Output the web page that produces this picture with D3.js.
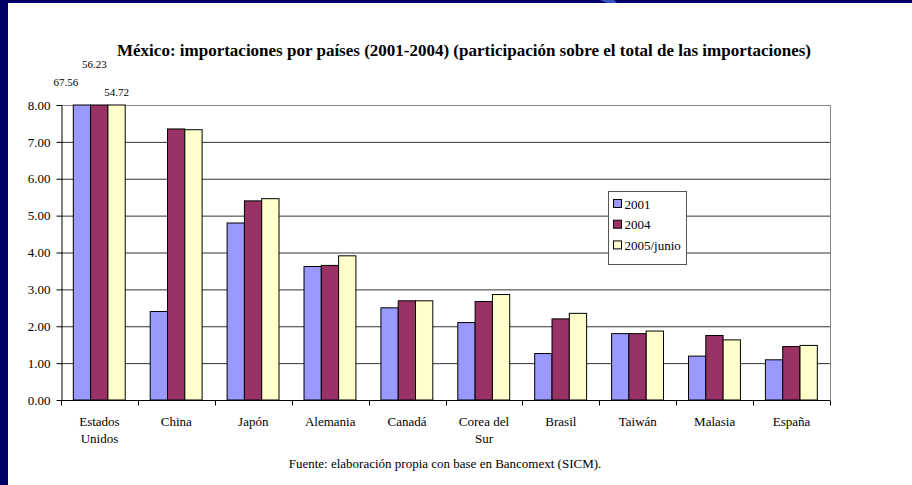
<!DOCTYPE html>
<html>
<head>
<meta charset="utf-8">
<script src="https://cdn.jsdelivr.net/npm/d3@7"></script>
<style>
  html, body { margin: 0; padding: 0; background: #fff; }
  svg { display: block; }
  svg text { font-family: "Liberation Serif", "Times New Roman", "DejaVu Serif", serif !important; fill: #000; }
</style>
</head>
<body>
<div id="chart"></div>
<script>
// Data
const categories = ["Estados Unidos", "China", "Japón", "Alemania", "Canadá",
  "Corea del Sur", "Brasil", "Taiwán", "Malasia", "España"];
const seriesNames = ["2001", "2004", "2005/junio"];
const v2001 = [67.56, 2.40, 4.80, 3.62, 2.50, 2.10, 1.26, 1.80, 1.19, 1.09];
const v2004 = [56.23, 7.35, 5.40, 3.65, 2.69, 2.67, 2.20, 1.80, 1.75, 1.45];
const v2005 = [54.72, 7.33, 5.46, 3.91, 2.69, 2.86, 2.35, 1.87, 1.63, 1.48];
const yTicks = [0, 1, 2, 3, 4, 5, 6, 7, 8];

const colors = ["#9999FF", "#993366", "#FFFFCC"];
const series = [v2001, v2004, v2005];
const serif = "'Liberation Serif', 'Times New Roman', serif";

const W = 912, H = 485;
const margin = { left: 61, right: 82, top: 105, bottom: 85 };

const svg = d3.select("#chart").append("svg")
  .attr("width", W).attr("height", H)
  .attr("font-family", serif);

// slide frame
svg.append("rect").attr("x", 0).attr("y", 0).attr("width", W).attr("height", 3).attr("fill", "#000066");
svg.append("rect").attr("x", 0).attr("y", 0).attr("width", 8).attr("height", H).attr("fill", "#000066");
svg.append("path").attr("d", "M600,0 L614,0 L617,3 L607,3 Z").attr("fill", "#3355bb");

const x0 = d3.scaleBand().domain(categories).range([margin.left, W - margin.right]);
const x1 = d3.scaleBand().domain(seriesNames)
  .range([x0.step() * 0.16, x0.step() * 0.835]);
const y = d3.scaleLinear().domain([0, 8]).range([H - margin.bottom, margin.top]).clamp(true);

// title
svg.append("text")
  .attr("x", 464).attr("y", 56)
  .attr("text-anchor", "middle")
  .attr("font-weight", "bold")
  .attr("font-size", "17px")
  .text("México: importaciones por países (2001-2004) (participación sobre el total de las importaciones)");

// gridlines
svg.append("g")
  .selectAll("line")
  .data(yTicks.filter(d => d > 0))
  .join("line")
  .attr("x1", margin.left).attr("x2", W - margin.right)
  .attr("y1", d => y(d) + 0.5).attr("y2", d => y(d) + 0.5)
  .attr("stroke", d => d === 8 ? "#888" : "#333")
  .attr("stroke-width", 1);

// right border of plot area
svg.append("line")
  .attr("x1", W - margin.right + 0.5).attr("x2", W - margin.right + 0.5)
  .attr("y1", y(8)).attr("y2", y(0))
  .attr("stroke", "#888");

// bars
const groups = svg.append("g")
  .selectAll("g")
  .data(categories)
  .join("g")
  .attr("transform", d => `translate(${x0(d)},0)`);

groups.selectAll("rect")
  .data((d, i) => series.map((s, k) => ({ key: seriesNames[k], value: s[i], k })))
  .join("rect")
  .attr("x", d => x1(d.key))
  .attr("width", x1.bandwidth())
  .attr("y", d => y(d.value))
  .attr("height", d => y(0) - y(d.value))
  .attr("fill", d => colors[d.k])
  .attr("stroke", "#000")
  .attr("stroke-width", 1);

// labels for the clipped bars (Estados Unidos)
const labelOffsets = [{ dx: -16, dy: -19 }, { dx: -5, dy: -37 }, { dx: 0, dy: -9 }];
series.forEach((s, k) => {
  if (s[0] > 8) {
    svg.append("text")
      .attr("x", x0(categories[0]) + x1(seriesNames[k]) + x1.bandwidth() / 2 + labelOffsets[k].dx)
      .attr("y", y(8) + labelOffsets[k].dy)
      .attr("text-anchor", "middle")
      .attr("font-size", "11px")
      .text(s[0].toFixed(2));
  }
});

// y axis
const yAxis = svg.append("g")
  .attr("transform", `translate(${margin.left + 0.5},0)`)
  .call(d3.axisLeft(y).tickValues(yTicks).tickFormat(d3.format(".2f")).tickSize(5).tickSizeOuter(0))
  .attr("font-family", serif);
yAxis.select(".domain").attr("stroke", "#000");
yAxis.selectAll(".tick line").attr("stroke", "#000");
yAxis.selectAll(".tick text")
  .attr("font-size", "13px")
  .attr("x", -11);

// x axis
const xAxis = svg.append("g")
  .attr("transform", `translate(0,${y(0) + 0.5})`);
xAxis.append("line")
  .attr("x1", margin.left).attr("x2", W - margin.right)
  .attr("stroke", "#000");
xAxis.selectAll("line.tk")
  .data(categories.concat(["end"]))
  .join("line")
  .attr("class", "tk")
  .attr("x1", (d, i) => Math.round(margin.left + i * x0.step()) + 0.5)
  .attr("x2", (d, i) => Math.round(margin.left + i * x0.step()) + 0.5)
  .attr("y1", 0).attr("y2", 5)
  .attr("stroke", "#000");

const catLabels = xAxis.selectAll("text")
  .data(categories)
  .join("text")
  .attr("text-anchor", "middle")
  .attr("font-size", "13px")
  .attr("transform", d => `translate(${x0(d) + x0.bandwidth() / 2},0)`);

function splitLabel(name) {
  if (name === "Estados Unidos") return ["Estados", "Unidos"];
  if (name === "Corea del Sur") return ["Corea del", "Sur"];
  return [name];
}
catLabels.selectAll("tspan")
  .data(d => splitLabel(d))
  .join("tspan")
  .attr("x", 0)
  .attr("y", (d, i) => 25 + i * 17.5)
  .text(d => d);

// legend
const legend = svg.append("g").attr("transform", "translate(608.5,191.5)");
legend.append("rect")
  .attr("width", 78).attr("height", 73)
  .attr("fill", "#fff").attr("stroke", "#555");
seriesNames.forEach((name, k) => {
  const row = legend.append("g").attr("transform", `translate(5,${12.5 + k * 20.7})`);
  row.append("rect")
    .attr("x", 0).attr("y", -4.5).attr("width", 8).attr("height", 8)
    .attr("fill", colors[k]).attr("stroke", "#000");
  row.append("text")
    .attr("x", 11).attr("y", 4.5)
    .attr("font-size", "13px")
    .text(name);
});

// source note
svg.append("text")
  .attr("x", 445).attr("y", 468)
  .attr("text-anchor", "middle")
  .attr("font-size", "13px")
  .text("Fuente: elaboración propia con base en Bancomext (SICM).");
</script>
</body>
</html>
